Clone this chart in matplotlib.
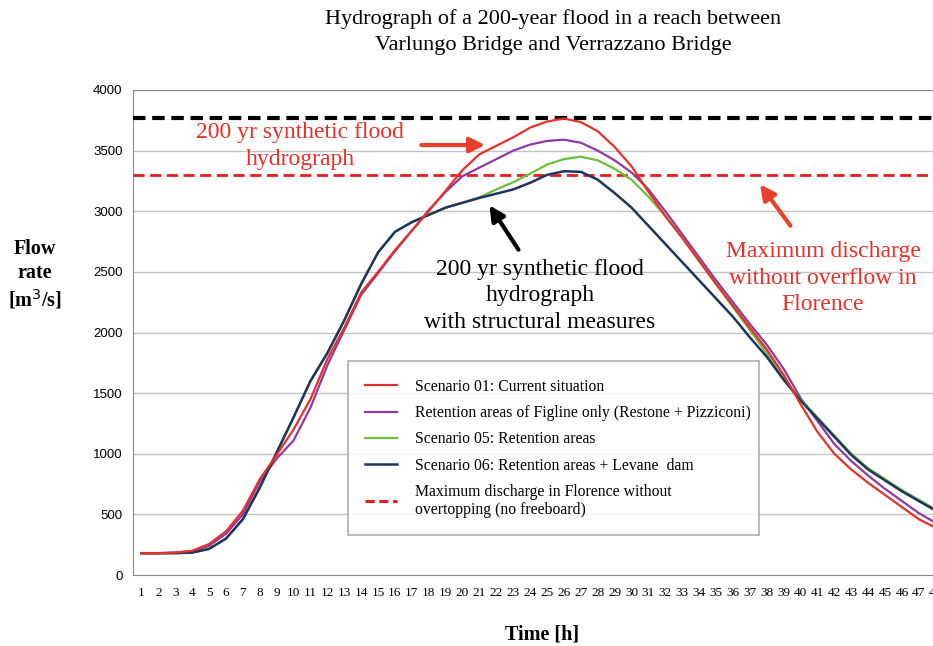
import matplotlib
matplotlib.use("Agg")
import matplotlib.pyplot as plt
from matplotlib.lines import Line2D

# hours on the x axis
hours = list(range(1, 49))

# flow rate [m3/s]
scenario01 = [180, 180, 185, 200, 255, 360, 530, 790, 990, 1200, 1450, 1780,
              2040, 2330, 2500, 2680, 2840, 3000, 3170, 3340, 3470, 3540, 3610, 3690,
              3740, 3765, 3735, 3660, 3530, 3370, 3160, 2960, 2780, 2590, 2400, 2220,
              2040, 1860, 1650, 1410, 1180, 1000, 870, 760, 660, 560, 460, 390]
figline = [180, 180, 185, 195, 240, 340, 500, 770, 960, 1110, 1380, 1730,
           2020, 2310, 2490, 2670, 2840, 3010, 3160, 3290, 3360, 3430, 3500, 3550,
           3580, 3590, 3565, 3500, 3420, 3320, 3180, 3000, 2810, 2620, 2430, 2250,
           2070, 1900, 1700, 1460, 1270, 1080, 940, 820, 710, 610, 510, 430]
scenario05 = [180, 180, 180, 185, 215, 300, 460, 720, 1010, 1300, 1600, 1830,
              2100, 2400, 2660, 2830, 2910, 2970, 3030, 3070, 3115, 3180, 3240, 3310,
              3385, 3430, 3450, 3420, 3350, 3260, 3120, 2960, 2780, 2590, 2400, 2210,
              2020, 1830, 1620, 1450, 1300, 1150, 1000, 880, 790, 700, 620, 540]
scenario06 = [180, 180, 180, 185, 215, 300, 460, 720, 1010, 1300, 1600, 1830,
              2100, 2400, 2660, 2830, 2910, 2970, 3030, 3070, 3110, 3145, 3180, 3235,
              3300, 3330, 3325, 3260, 3150, 3030, 2880, 2730, 2580, 2430, 2280, 2130,
              1960, 1800, 1610, 1440, 1290, 1140, 990, 870, 780, 690, 610, 530]

peak_level = 3765      # black dashed line
max_florence = 3295    # red dashed line

labels = ["Scenario 01: Current situation",
          "Retention areas of Figline only (Restone + Pizziconi)",
          "Scenario 05: Retention areas",
          "Scenario 06: Retention areas + Levane  dam",
          "Maximum discharge in Florence without\novertopping (no freeboard)"]

RED = "#e8302a"
PURPLE = "#8e3aa3"
GREEN = "#6cbf3a"
NAVY = "#1f3560"
SERIF = "Liberation Serif"

fig = plt.figure(figsize=(9.33, 6.46), dpi=100)
ax = fig.add_axes([133 / 933, 71 / 646, 48 * 16.9 / 933, 485 / 646])

ax.axhline(peak_level, color="black", lw=3, ls=(0, (3, 1.6)), zorder=3)
ax.axhline(max_florence, color="#e81c1c", lw=2, ls=(0, (4, 2)), zorder=3)

ax.plot(hours, scenario01, color=RED, lw=1.6, zorder=5)
ax.plot(hours, figline, color=PURPLE, lw=1.6, zorder=4)
ax.plot(hours, scenario05, color=GREEN, lw=1.6, zorder=4)
ax.plot(hours, scenario06, color=NAVY, lw=1.8, zorder=4)

ax.set_xlim(0.5, 48.5)
ax.set_ylim(0, 4000)
ax.set_xticks(hours)
ax.set_yticks(range(0, 4001, 500))
ax.grid(axis="y", color="#c4c4c4", lw=1)
ax.set_axisbelow(True)
ax.tick_params(length=0)
ax.tick_params(axis="y", pad=7.5)
ax.tick_params(axis="x", pad=9)
for t in ax.get_yticklabels():
    t.set_fontfamily("Liberation Sans")
    t.set_fontsize(9.5)
for t in ax.get_xticklabels():
    t.set_fontfamily(SERIF)
    t.set_fontsize(9.5)
for s in ["left", "bottom", "top"]:
    ax.spines[s].set_color("#8a8a8a")
ax.spines["right"].set_visible(False)

# legend
handles = [Line2D([], [], color=RED, lw=1.6),
           Line2D([], [], color=PURPLE, lw=1.6),
           Line2D([], [], color=GREEN, lw=1.6),
           Line2D([], [], color=NAVY, lw=1.8),
           Line2D([], [], color="#e81c1c", lw=2.2, ls=(0, (3, 1.5)))]
leg = fig.legend(handles, labels, loc="upper left",
                 bbox_to_anchor=(340 / 933, 1 - 360 / 646, 427 / 933, 0.01),
                 mode="expand", prop={"family": SERIF, "size": 11.3},
                 frameon=True, fancybox=False, edgecolor="#9a9a9a",
                 borderpad=1.1, labelspacing=0.66, handlelength=2.0,
                 handletextpad=1.2)
leg.get_frame().set_linewidth(1.2)
leg.get_texts()[-1].set_linespacing(1.12)

# annotations
ax.annotate("", xy=(21.5, 3546), xytext=(17.4, 3546),
            arrowprops=dict(arrowstyle="-|>,head_length=0.9,head_width=0.45",
                            color="#e8402a", lw=3))
ax.annotate("", xy=(21.5, 3068), xytext=(23.4, 2664),
            arrowprops=dict(arrowstyle="-|>,head_length=0.9,head_width=0.45",
                            color="black", lw=3))
ax.annotate("", xy=(37.5, 3241), xytext=(39.5, 2862),
            arrowprops=dict(arrowstyle="-|>,head_length=0.9,head_width=0.45",
                            color="#e8402a", lw=3))

fig.text(300 / 933, 1 - 146 / 646, "200 yr synthetic flood\nhydrograph",
         ha="center", va="center", color="#e8302a", family=SERIF,
         fontsize=17, linespacing=1.32)
fig.text(540 / 933, 1 - 296 / 646,
         "200 yr synthetic flood\nhydrograph\nwith structural measures",
         ha="center", va="center", color="black", family=SERIF,
         fontsize=17, linespacing=1.32)
fig.text(823 / 933, 1 - 278 / 646,
         "Maximum discharge\nwithout overflow in\nFlorence",
         ha="center", va="center", color="#e8302a", family=SERIF,
         fontsize=17, linespacing=1.32)

# titles and axis labels
fig.text(553 / 933, 1 - 32 / 646,
         "Hydrograph of a 200-year flood in a reach between\nVarlungo Bridge and Verrazzano Bridge",
         ha="center", va="center", family=SERIF, fontsize=16, linespacing=1.45)
fig.text(35 / 933, 1 - 275 / 646, "Flow\nrate\n[m$^3$/s]", ha="center",
         va="center", family=SERIF, fontsize=14.5, weight="bold", linespacing=1.25)
fig.text(542 / 933, 1 - 634 / 646, "Time [h]", ha="center", va="center",
         family=SERIF, fontsize=14.5, weight="bold")

fig.savefig("out.png", dpi=100)
